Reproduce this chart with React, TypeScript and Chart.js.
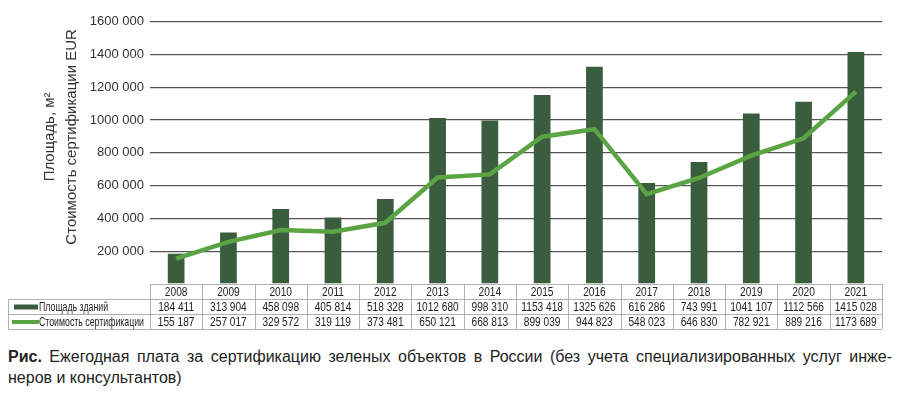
import React, { useEffect, useRef } from "react";
import { Chart, registerables } from "chart.js";

Chart.register(...registerables);

const years = ["2008","2009","2010","2011","2012","2013","2014","2015","2016","2017","2018","2019","2020","2021"];
const areaValues = [184411,313904,458098,405814,518328,1012680,998310,1153418,1325626,616286,743991,1041107,1112566,1415028];
const costValues = [155187,257017,329572,319119,373481,650121,668813,899039,944823,548023,646830,782921,889216,1173689];
const areaLabel = "Площадь зданий";
const costLabel = "Стоимость сертификации";
const yTitleLines = ["Площадь, м²", "Стоимость сертификации EUR"];
const yTicks = [200000,400000,600000,800000,1000000,1200000,1400000,1600000];

const BAR = "#3a5d3d";
const LINE = "#5aa444";
const FONT = "'Liberation Sans', Arial, sans-serif";

function fmt(v: number): string {
  const hi = Math.floor(v / 1000);
  const lo = v % 1000;
  if (hi === 0) return String(lo);
  return hi + " " + String(lo).padStart(3, "0");
}

function condensedText(ctx: any, text: string, x: number, y: number, sx: number) {
  ctx.save();
  ctx.translate(x, y);
  ctx.scale(sx, 1);
  ctx.fillText(text, 0, 0);
  ctx.restore();
}

const tablePlugin = {
  id: "dataTable",
  afterDraw(chart: any) {
    const ctx = chart.ctx;
    const x = chart.scales.x;
    const area = chart.chartArea;
    const n = years.length;
    const colW = (area.right - area.left) / n;
    const top = area.bottom;
    const rowH = 15;
    const tableLeft = 0;
    ctx.save();
    ctx.strokeStyle = "#b0b0b0";
    ctx.lineWidth = 1;
    const hl = (y: number, x0: number, x1: number) => {
      ctx.beginPath();
      ctx.moveTo(x0, Math.round(y) + 0.5);
      ctx.lineTo(x1, Math.round(y) + 0.5);
      ctx.stroke();
    };
    const vl = (xx: number, y0: number, y1: number) => {
      ctx.beginPath();
      ctx.moveTo(Math.round(xx) + 0.5, y0);
      ctx.lineTo(Math.round(xx) + 0.5, y1);
      ctx.stroke();
    };
    hl(top, area.left, area.right);
    hl(top + rowH, tableLeft, area.right);
    hl(top + 2 * rowH, tableLeft, area.right);
    hl(top + 3 * rowH, tableLeft, area.right);
    vl(tableLeft, top + rowH, top + 3 * rowH);
    for (let i = 0; i <= n; i++) {
      vl(area.left + i * colW, top, top + 3 * rowH);
    }
    ctx.fillStyle = "#222";
    ctx.font = "13px " + FONT;
    ctx.textAlign = "center";
    ctx.textBaseline = "middle";
    const sx = 0.78;
    for (let i = 0; i < n; i++) {
      const cx = x.getPixelForValue(i);
      condensedText(ctx, years[i], cx, top + rowH / 2 + 1, sx);
      condensedText(ctx, fmt(areaValues[i]), cx, top + rowH * 1.5 + 1, sx);
      condensedText(ctx, fmt(costValues[i]), cx, top + rowH * 2.5 + 1, sx);
    }
    ctx.textAlign = "left";
    ctx.fillStyle = BAR;
    ctx.fillRect(tableLeft + 6, top + rowH * 1.5 - 2, 24, 5);
    ctx.strokeStyle = LINE;
    ctx.lineWidth = 4;
    ctx.beginPath();
    ctx.moveTo(tableLeft + 4, top + rowH * 2.5 + 0.5);
    ctx.lineTo(tableLeft + 31, top + rowH * 2.5 + 0.5);
    ctx.stroke();
    ctx.fillStyle = "#222";
    const lw = ctx.measureText(costLabel).width;
    const lsx = Math.min(0.8, 105 / lw);
    condensedText(ctx, areaLabel, tableLeft + 31, top + rowH * 1.5 + 1, lsx);
    condensedText(ctx, costLabel, tableLeft + 31, top + rowH * 2.5 + 1, lsx);
    ctx.save();
    const cy = (area.top + area.bottom) / 2 - 16;
    ctx.translate(42, cy);
    ctx.rotate(-Math.PI / 2);
    ctx.font = "15px " + FONT;
    ctx.fillStyle = "#333";
    ctx.textAlign = "center";
    ctx.fillText(yTitleLines[0], 0, 0);
    ctx.fillText(yTitleLines[1], 0, 22);
    ctx.restore();
    ctx.restore();
  },
};

export default function App() {
  const ref = useRef<HTMLCanvasElement>(null);
  useEffect(() => {
    if (!ref.current) return;
    const chart = new Chart(ref.current, {
      type: "bar",
      data: {
        labels: years,
        datasets: [
          {
            type: "line",
            label: costLabel,
            data: costValues,
            borderColor: LINE,
            backgroundColor: LINE,
            borderWidth: 4.5,
            pointRadius: 0,
            tension: 0,
            order: 0,
          } as any,
          {
            type: "bar",
            label: areaLabel,
            data: areaValues,
            backgroundColor: BAR,
            categoryPercentage: 1,
            barPercentage: 0.32,
            order: 1,
          },
        ],
      },
      options: {
        animation: false,
        responsive: false,
        layout: { padding: { top: 7, right: 10, bottom: 54, left: 0 } },
        plugins: { legend: { display: false }, tooltip: { enabled: false } },
        scales: {
          x: { display: false, offset: true },
          y: {
            min: 0,
            max: 1600000,
            afterFit(scale: any) {
              scale.width = 142;
            },
            afterBuildTicks(scale: any) {
              scale.ticks = [0, ...yTicks].map((v) => ({ value: v }));
            },
            border: { display: false },
            grid: {
              color: (c: any) => (c.tick && c.tick.value === 0 ? "rgba(0,0,0,0)" : "#555"),
              lineWidth: 1.3,
              drawTicks: false,
            },
            ticks: {
              padding: 6,
              color: "#333",
              font: { family: FONT, size: 13 },
              callback: (v: any) => (v === 0 ? "" : fmt(Number(v))),
            },
          },
        },
      },
      plugins: [tablePlugin],
    });
    return () => chart.destroy();
  }, []);
  return (
    <div style={{ width: 884 }}>
      <canvas ref={ref} width={884} height={330} style={{ display: "block" }} />
      <div
        style={{
          fontFamily: FONT,
          fontSize: 16,
          color: "#222",
          lineHeight: "21px",
          marginTop: 8,
          textAlign: "justify",
        }}
      >
        <b>Рис.</b> Ежегодная плата за сертификацию зеленых объектов в России (без учета специализированных услуг инже-
        неров и консультантов)
      </div>
    </div>
  );
}
